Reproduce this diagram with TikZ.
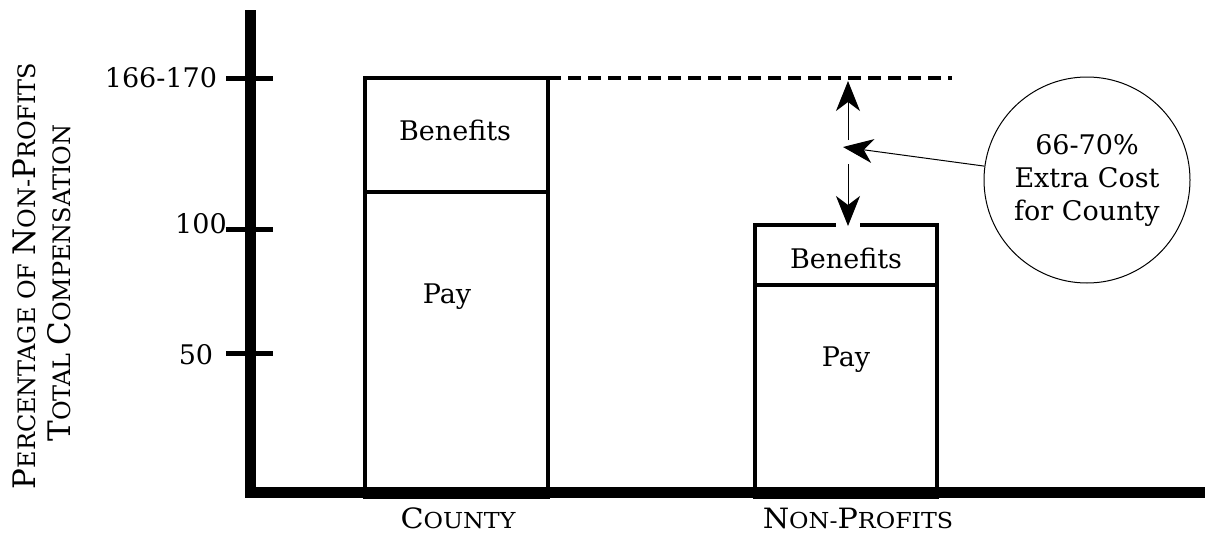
\documentclass[tikz,border=0pt]{standalone}
\usepackage{fontspec}
\setmainfont{DejaVu Serif}
\usetikzlibrary{arrows.meta}
\newcommand\fsz[1]{\fontsize{#1}{#1}\selectfont}
\newcommand\bgc[1]{{\fontsize{31}{31}\selectfont #1}}
\newcommand\smc[1]{{\fontsize{24}{24}\selectfont #1}}
\newcommand\xbgc[1]{{\fontsize{28}{28}\selectfont #1}}
\newcommand\xsmc[1]{{\fontsize{22}{22}\selectfont #1}}
\begin{document}
\begin{tikzpicture}[x=1pt,y=-1pt,
  bar/.style={line width=4.5pt},
  axis/.style={line width=11pt},
  tickmark/.style={line width=5pt},
  lbl/.style={font=\fsz{27}, inner sep=0pt},
  tip/.style={-{Stealth[length=30pt,width=24pt,inset=9pt]}, line width=1pt}
]
\useasboundingbox[fill=white] (0,0) rectangle (1205,533);

% bars
\draw[bar] (365,78) rectangle (548,497);
\draw[bar] (365,192) -- (548,192);
\draw[bar] (755,225) rectangle (937,497);
\draw[bar] (755,285) -- (937,285);

% axes
\draw[axis] (250,10) -- (250,497);
\draw[axis] (245,492) -- (1205,492);

% ticks
\draw[tickmark] (226,78.5) -- (273,78.5);
\draw[tickmark] (226,229) -- (273,229);
\draw[tickmark] (226,353) -- (273,353);

% tick labels
\node[lbl] (t170) at (161,78) {166-170};
\node[lbl] (t100) at (201,224) {100};
\node[lbl] (t50) at (196,355) {50};

% bar labels
\node[lbl] (cb) at (455,130) {Benefits};
\node[lbl] (cp) at (447,297) {Pay};
\node[lbl] (nb) at (846,258) {Benefits};
\node[lbl] (np) at (846,360) {Pay};

% axis titles
\node[inner sep=0pt, rotate=90] (ylab1) at (24,276)
  {\bgc{P}\smc{ERCENTAGE OF }\bgc{N}\smc{ON-}\bgc{P}\smc{ROFITS}};
\node[inner sep=0pt, rotate=90] (ylab2) at (59,283)
  {\bgc{T}\smc{OTAL }\bgc{C}\smc{OMPENSATION}};
\node[inner sep=0pt] (xc) at (458,518)
  {\scalebox{1.08}[1]{\xbgc{C}\xsmc{OUNTY}}};
\node[inner sep=0pt] (xn) at (858,518)
  {\scalebox{1.08}[1]{\xbgc{N}\xsmc{ON-}\xbgc{P}\xsmc{ROFITS}}};

% dashed level line
\coordinate (dl) at (548,78);
\coordinate (dr) at (952,78);
\draw[line width=3.5pt, dash pattern=on 13pt off 7pt] (dl) -- (dr);

% double arrow with gap
\coordinate (atop) at (848,81);
\coordinate (aup) at (848,140);
\coordinate (adn) at (848,164);
\coordinate (abot) at (848,226);
\draw[tip] (aup) -- (atop);
\fill[white] (836,220) rectangle (860,228);
\draw[tip] (adn) -- (abot);

% callout
\node[draw, circle, line width=1pt, minimum size=206pt, inner sep=0pt,
      align=center, font=\fsz{27}] (circ) at (1087,180)
  {66-70\%\\[6pt]Extra Cost\\[6pt]for County};
\coordinate (mid) at (843,147);
\draw[tip] (circ) -- (mid);
\end{tikzpicture}
\end{document}
